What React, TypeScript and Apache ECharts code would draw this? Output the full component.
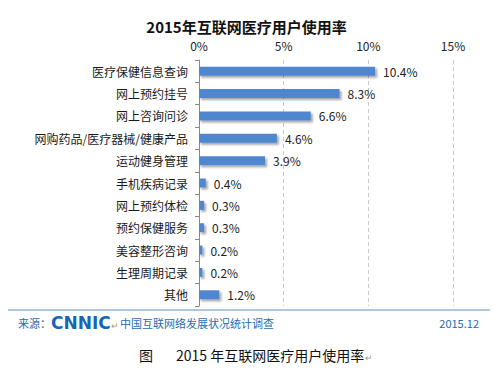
import React, { useEffect, useRef } from "react";
import * as echarts from "echarts";

const categories = [
  "医疗保健信息查询",
  "网上预约挂号",
  "网上咨询问诊",
  "网购药品/医疗器械/健康产品",
  "运动健身管理",
  "手机疾病记录",
  "网上预约体检",
  "预约保健服务",
  "美容整形咨询",
  "生理周期记录",
  "其他",
];
const values = [10.4, 8.3, 6.6, 4.6, 3.9, 0.4, 0.3, 0.3, 0.2, 0.2, 1.2];
const axisMin = 0;
const axisMax = 15;
const axisStep = 5;
const titleText = "2015年互联网医疗用户使用率";
const sourceLabel = "来源：";
const sourceName = "中国互联网络发展状况统计调查";
const dateText = "2015.12";
const captionLead = "图";
const captionText = "2015 年互联网医疗用户使用率";

const FONT = "'Noto Sans CJK SC', 'Noto Sans', sans-serif";
const BLUE = "#1d6db5";

export default function App() {
  const ref = useRef<HTMLDivElement>(null);
  useEffect(() => {
    if (!ref.current) return;
    const chart = echarts.init(ref.current, null, { renderer: "svg" });
    chart.setOption({
      animation: false,
      backgroundColor: "#ffffff",
      textStyle: { fontFamily: FONT },
      title: {
        text: titleText,
        left: "center",
        top: 14,
        textStyle: { fontSize: 15, fontWeight: "bold", color: "#111", fontFamily: FONT },
      },
      grid: { left: 199, right: 40, top: 60, bottom: 70, containLabel: false },
      xAxis: {
        type: "value",
        position: "top",
        min: axisMin,
        max: axisMax,
        interval: axisStep,
        axisLine: { show: false },
        axisTick: { show: false },
        axisLabel: { formatter: "{value}%", color: "#222", fontSize: 12, margin: 9, fontFamily: FONT },
        splitLine: { show: true, lineStyle: { color: "#c8c8c8", type: [4, 3], width: 1 } },
      },
      yAxis: {
        type: "category",
        data: categories,
        inverse: true,
        axisLine: { show: true, lineStyle: { color: "#8a8a8a", width: 1 } },
        axisTick: { show: true, length: 4, lineStyle: { color: "#8a8a8a" } },
        axisLabel: { color: "#1a1a1a", fontSize: 12, margin: 11, fontFamily: FONT },
      },
      series: [
        {
          type: "bar",
          data: values,
          barWidth: 9,
          itemStyle: {
            color: "#4f86d0",
            shadowColor: "rgba(0,0,0,0.35)",
            shadowBlur: 2,
            shadowOffsetX: 2,
            shadowOffsetY: 2,
          },
          label: {
            show: true,
            position: "right",
            distance: 8,
            formatter: "{c}%",
            color: "#222",
            fontSize: 12,
            fontFamily: FONT,
          },
        },
      ],
      graphic: [
        {
          type: "line",
          shape: { x1: 8, y1: 310, x2: 490, y2: 310 },
          style: { stroke: "#5b8fc9", lineWidth: 1 },
        },
        {
          type: "text",
          x: 18,
          y: 323,
          style: { text: sourceLabel, fill: BLUE, fontSize: 11, fontFamily: FONT, verticalAlign: "middle" },
        },
        {
          type: "text",
          x: 51,
          y: 323,
          style: {
            text: "CNNIC",
            fill: "#1466b8",
            fontSize: 17,
            fontWeight: 900,
            fontFamily: "'DejaVu Sans', sans-serif",
            verticalAlign: "middle",
          },
        },
        {
          type: "text",
          x: 111,
          y: 325,
          style: { text: "↵", fill: "#999", fontSize: 9, fontFamily: FONT, verticalAlign: "middle" },
        },
        {
          type: "text",
          x: 120,
          y: 323,
          style: { text: sourceName, fill: BLUE, fontSize: 11, fontFamily: FONT, verticalAlign: "middle" },
        },
        {
          type: "text",
          x: 479,
          y: 323,
          style: { text: dateText, fill: BLUE, fontSize: 11, fontFamily: FONT, align: "right", verticalAlign: "middle" },
        },
        {
          type: "text",
          x: 139,
          y: 355,
          style: { text: captionLead, fill: "#111", fontSize: 14, fontFamily: FONT, verticalAlign: "middle" },
        },
        {
          type: "text",
          x: 176,
          y: 355,
          style: {
            text: "{a|" + captionText + "}{b|↵}",
            verticalAlign: "middle",
            rich: {
              a: { fill: "#111", fontSize: 14, fontFamily: FONT },
              b: { fill: "#999", fontSize: 9, fontFamily: FONT, padding: [4, 0, 0, 1] },
            },
          },
        },
      ],
    });
    return () => chart.dispose();
  }, []);
  return (
    <div
      ref={ref}
      style={{ position: "absolute", left: 0, top: 0, width: 493, height: 376 }}
    />
  );
}
